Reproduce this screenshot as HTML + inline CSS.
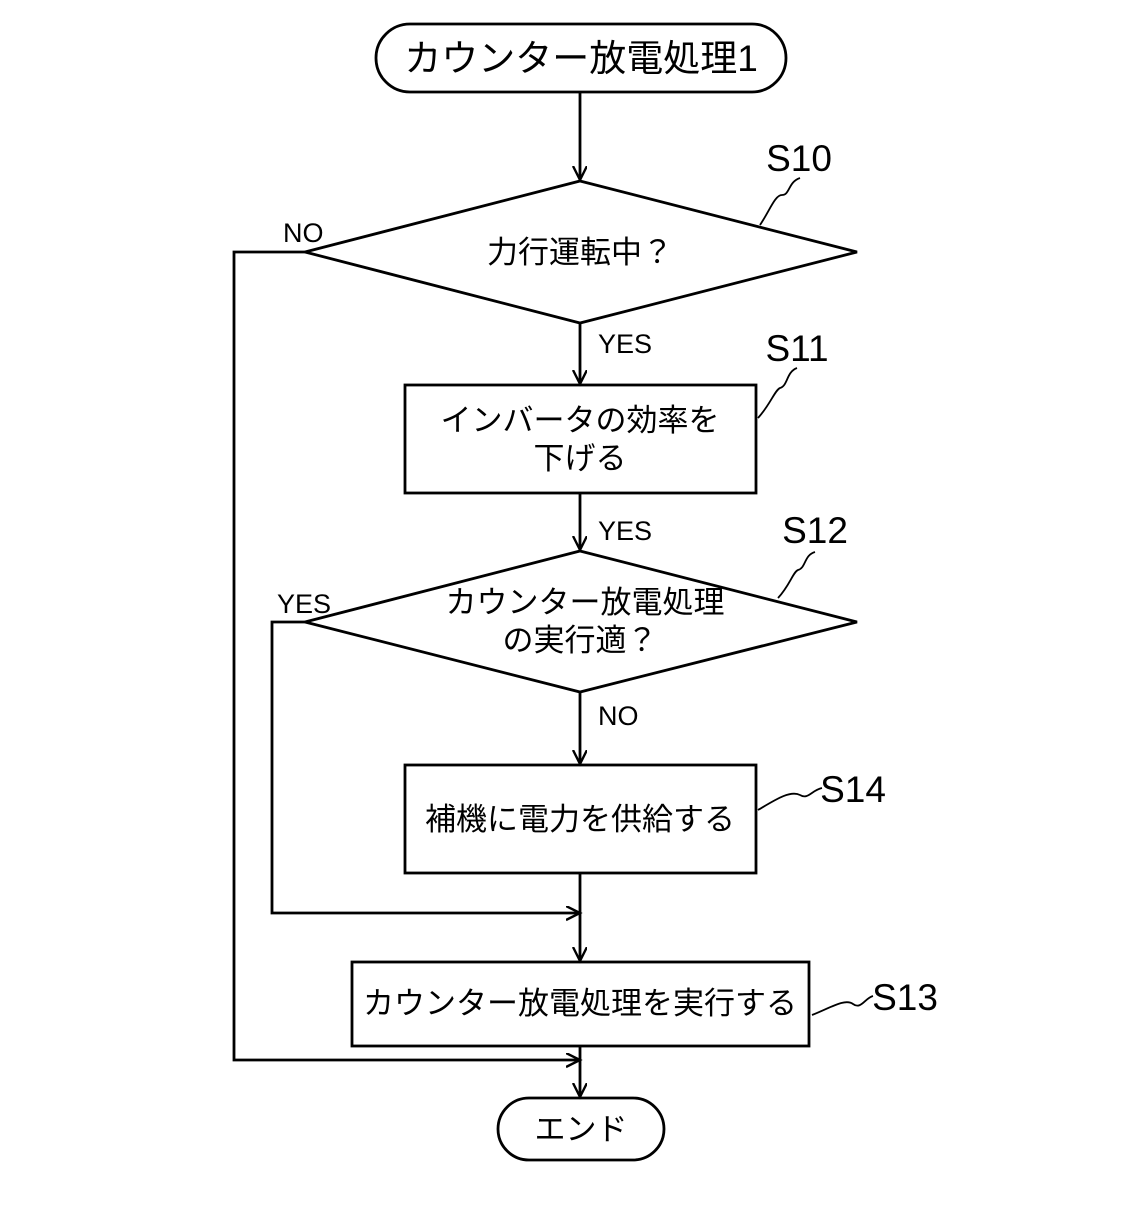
<!DOCTYPE html>
<html><head><meta charset="utf-8"><style>
html,body{margin:0;padding:0;background:#fff;}
svg text{font-family:"Liberation Sans","Noto Sans CJK JP",sans-serif;fill:#000;}
</style></head><body>
<svg width="1128" height="1200" viewBox="0 0 1128 1200" xmlns="http://www.w3.org/2000/svg">
<defs>
<marker id="a" markerWidth="20" markerHeight="20" refX="14" refY="7" orient="auto" markerUnits="userSpaceOnUse">
<path d="M0,0 L14,7 L0,14" fill="none" stroke="#000" stroke-width="2.4"/>
</marker>
</defs>
<g fill="none" stroke="#000" stroke-width="2.8">
<rect x="376" y="24" width="410" height="68" rx="34"/>
<line x1="580" y1="92" x2="580" y2="180" marker-end="url(#a)"/>
<polygon points="580,181 857,252 580,323 305,252"/>
<line x1="580" y1="323" x2="580" y2="384" marker-end="url(#a)"/>
<rect x="405" y="385" width="351" height="108"/>
<line x1="580" y1="493" x2="580" y2="550" marker-end="url(#a)"/>
<polygon points="580,551 857,622 580,692 305,622"/>
<line x1="580" y1="692" x2="580" y2="764" marker-end="url(#a)"/>
<rect x="405" y="765" width="351" height="108"/>
<line x1="580" y1="873" x2="580" y2="961" marker-end="url(#a)"/>
<rect x="352" y="962" width="457" height="84"/>
<line x1="580" y1="1046" x2="580" y2="1097" marker-end="url(#a)"/>
<rect x="498" y="1098" width="166" height="62" rx="31"/>
<polyline points="305,252 234,252 234,1060 580,1060" marker-end="url(#a)"/>
<polyline points="305,622 272,622 272,913 580,913" marker-end="url(#a)"/>
</g>
<g fill="none" stroke="#000" stroke-width="1.8">
<path d="M760,225 C770,210 775,195 782,195 C790,195 788,182 800,178"/>
<path d="M758,418 C770,405 775,390 780,388 C788,386 786,372 797,368"/>
<path d="M778,598 C790,585 793,572 798,570 C806,568 804,555 815,552"/>
<path d="M758,810 C775,800 790,790 800,795 C808,800 812,790 822,788"/>
<path d="M812,1015 C830,1008 845,998 853,1004 C861,1010 865,998 873,996"/>
</g>
<g font-size="37" text-anchor="middle">
<text x="581" y="71">カウンター放電処理1</text>
</g>
<g font-size="31" text-anchor="middle">
<text x="580" y="263">力行運転中？</text>
<text x="580" y="431">インバータの効率を</text>
<text x="580" y="469">下げる</text>
<text x="585" y="613">カウンター放電処理</text>
<text x="580" y="651">の実行適？</text>
<text x="580" y="830">補機に電力を供給する</text>
<text x="580" y="1014">カウンター放電処理を実行する</text>
<text x="581" y="1140">エンド</text>
</g>
<g font-size="37" text-anchor="middle">
<text x="799" y="171">S10</text>
<text x="797" y="361">S11</text>
<text x="815" y="543">S12</text>
<text x="853" y="802">S14</text>
<text x="905" y="1010">S13</text>
</g>
<g font-size="27">
<text x="283" y="242">NO</text>
<text x="598" y="353">YES</text>
<text x="598" y="540">YES</text>
<text x="277" y="613">YES</text>
<text x="598" y="725">NO</text>
</g>
</svg>
</body></html>
